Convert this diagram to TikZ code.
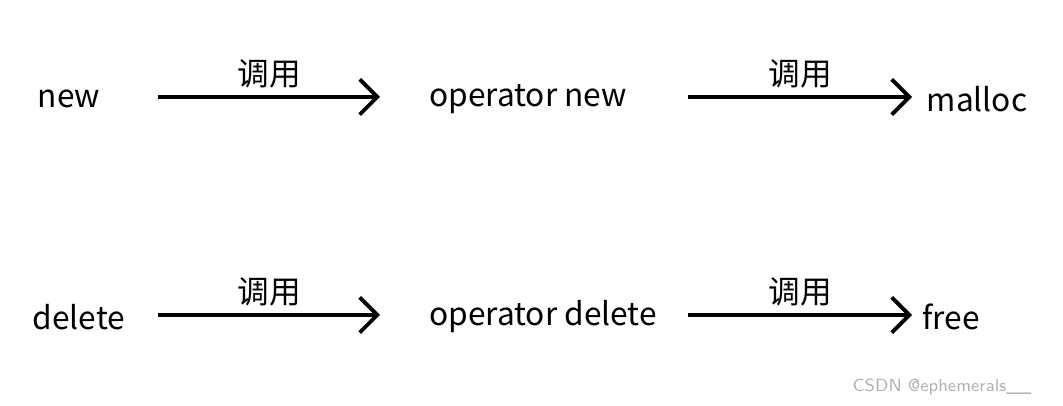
\documentclass[tikz,border=0pt]{standalone}
\usepackage{fontspec}
\setmainfont{Noto Sans CJK SC}
\usetikzlibrary{arrows.meta}
\tikzset{
  word/.style={inner sep=0pt, font=\fontsize{9}{10}\selectfont},
  call/.style={line width=1.1pt, -{Straight Barb[length=5pt, width=10pt, line width=1.1pt]}},
  tag/.style={inner sep=0pt, font=\fontsize{9}{10}\selectfont}
}
\begin{document}
\begin{tikzpicture}[x=0.01cm, y=0.01cm]
  \useasboundingbox (0,0) rectangle (1063,406);
  % first row
  \node[word] (new) at (69, 307) {new};
  \node[word] (opnew) at (528, 307) {operator new};
  \node[word] (malloc) at (977, 307) {malloc};
  \coordinate (n1) at (158, 309);
  \coordinate (n2) at (380, 309);
  \coordinate (n3) at (688, 309);
  \coordinate (n4) at (912, 309);
  \draw[call] (n1) -- node[tag, above=2pt] {调用} (n2);
  \draw[call] (n3) -- node[tag, above=2pt] {调用} (n4);

  % second row
  \node[word] (del) at (79, 89) {delete};
  \node[word] (opdel) at (543, 89) {operator delete};
  \node[word] (free) at (951, 89) {free};
  \coordinate (d1) at (158, 91);
  \coordinate (d2) at (380, 91);
  \coordinate (d3) at (688, 91);
  \coordinate (d4) at (912, 91);
  \draw[call] (d1) -- node[tag, above=2pt] {调用} (d2);
  \draw[call] (d3) -- node[tag, above=2pt] {调用} (d4);

  \node[inner sep=0pt, text=black!30, font=\fontsize{5}{6}\selectfont\sffamily] (mark) at (942, 19) {CSDN @ephemerals\_\_};
\end{tikzpicture}
\end{document}
